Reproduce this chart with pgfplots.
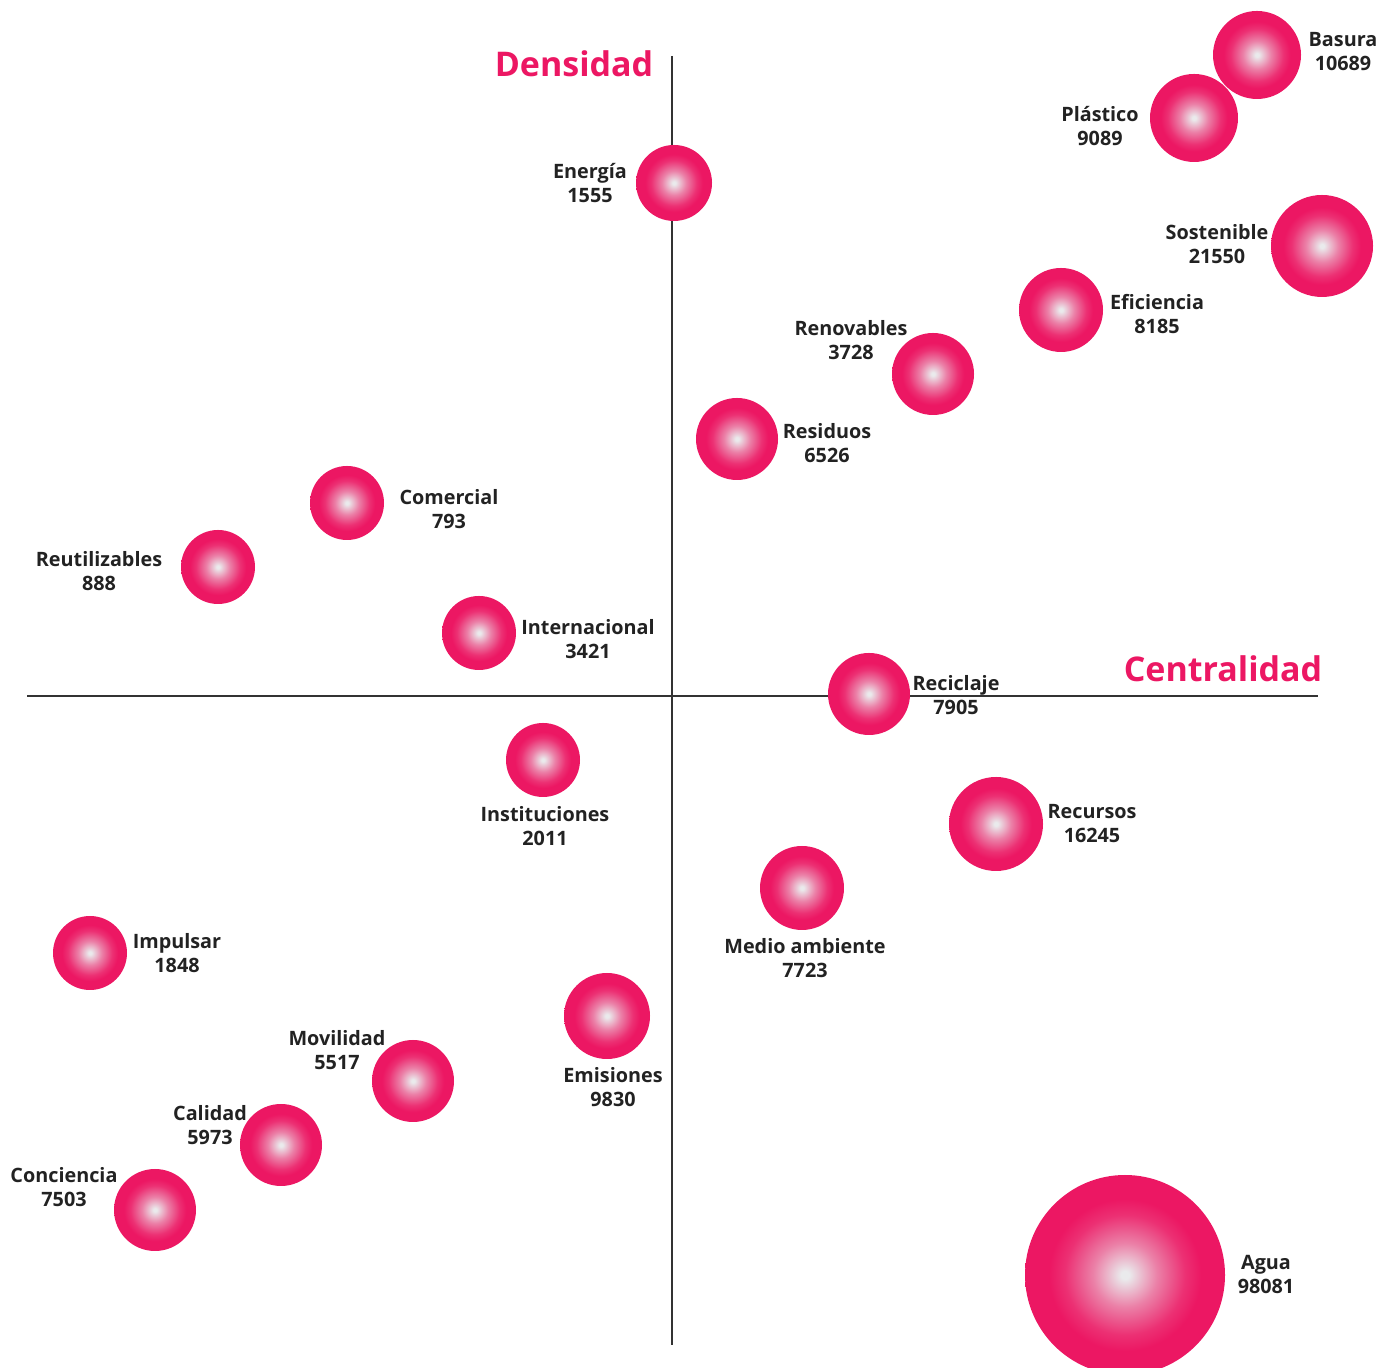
\documentclass[border=0pt]{standalone}
\usepackage{pgfplots}
\pgfplotsset{compat=1.18}
\usepackage{pgfplotstable}
\usepackage{fontspec}
\setmainfont{Open Sans}
\definecolor{pinkc}{RGB}{236,23,99}
\definecolor{cen}{RGB}{234,234,236}
\definecolor{txt}{RGB}{34,34,34}
\definecolor{axl}{RGB}{51,51,51}
\pgfdeclareradialshading{bub}{\pgfpointorigin}{color(0bp)=(cen); color(1bp)=(cen); color(8bp)=(pinkc!50!cen); color(15bp)=(pinkc!88!cen); color(19bp)=(pinkc); color(50bp)=(pinkc)}
\pgfdeclareplotmark{bub}{\pgfpathcircle{\pgfpointorigin}{\pgfplotmarksize}\pgfshadepath{bub}{0}\pgfusepath{}}

\pgfplotstableread{
x y r
585 641 44
522 578 44
2 513 38
650 450 51
389 386 42
261 322 41
65 257 41
-325 193 37
-454 129 37
-193 63 37
197 2 41
-129 -64 37
324 -128 47
130 -192 42
-582 -257 37
-65 -320 43
-259 -385 41
-391 -449 41
-517 -514 41
453 -579 100
}\bubbles

\begin{document}
\begin{tikzpicture}
\begin{axis}[
  scale only axis, width=697.5pt, height=684pt,
  xmin=-672, xmax=723, ymin=-672, ymax=696,
  hide axis, clip=true,
]
\addplot[axl, line width=0.75pt, no marks] coordinates {(-645,0) (646,0)};
\addplot[axl, line width=0.75pt, no marks] coordinates {(0,640) (0,-649)};
\addplot[scatter, only marks, mark=bub,
  visualization depends on={0.5*\thisrow{r} \as \rad},
  scatter/@pre marker code/.append style={/tikz/mark size=\rad},
] table[x=x,y=y] {\bubbles};

\begin{scope}[every node/.style={font=\fontsize{9.9}{12}\selectfont\bfseries, text=txt, align=center, inner sep=0pt}]
\node at (axis cs:671,644) {Basura\\10689};
\node at (axis cs:428,570) {Plástico\\9089};
\node at (axis cs:-82,513) {Energía\\1555};
\node at (axis cs:545,452) {Sostenible\\21550};
\node at (axis cs:485,382) {Eficiencia\\8185};
\node at (axis cs:179,356) {Renovables\\3728};
\node at (axis cs:155,253) {Residuos\\6526};
\node at (axis cs:-223,187) {Comercial\\793};
\node at (axis cs:-573,125) {Reutilizables\\888};
\node at (axis cs:-84,57) {Internacional\\3421};
\node at (axis cs:284,1) {Reciclaje\\7905};
\node at (axis cs:-127,-130) {Instituciones\\2011};
\node at (axis cs:420,-128) {Recursos\\16245};
\node at (axis cs:133,-262) {Medio ambiente\\7723};
\node at (axis cs:-495,-257) {Impulsar\\1848};
\node at (axis cs:-59,-391) {Emisiones\\9830};
\node at (axis cs:-335,-354) {Movilidad\\5517};
\node at (axis cs:-462,-429) {Calidad\\5973};
\node at (axis cs:-608,-491) {Conciencia\\7503};
\node at (axis cs:594,-579) {Agua\\98081};
\end{scope}
\node[font=\fontsize{17}{20}\selectfont\bfseries, text=pinkc, inner sep=0pt] at (axis cs:-98,632) {Densidad};
\node[font=\fontsize{17}{20}\selectfont\bfseries, text=pinkc, inner sep=0pt] at (axis cs:551,27) {Centralidad};
\end{axis}
\pgfresetboundingbox
\useasboundingbox (current axis.south west) rectangle (current axis.north east);
\end{tikzpicture}
\end{document}
